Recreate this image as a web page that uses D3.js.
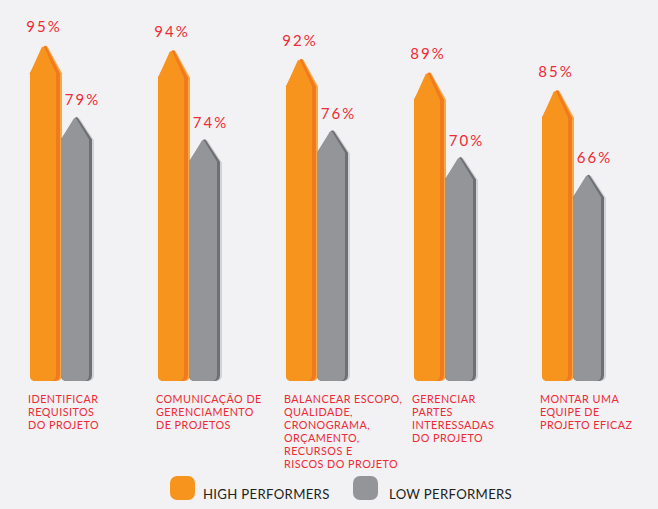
<!DOCTYPE html>
<html>
<head>
<meta charset="utf-8">
<script src="https://cdn.jsdelivr.net/npm/d3@7"></script>
<style>
  html, body { margin: 0; padding: 0; background: #f2f2f4; }
  svg { display: block; }
  text { font-family: Lato, "Open Sans", sans-serif; }
</style>
</head>
<body>
<svg id="chart" width="658" height="509"></svg>
<script>
const categories = ["IDENTIFICAR REQUISITOS DO PROJETO", "COMUNICAÇÃO DE GERENCIAMENTO DE PROJETOS", "BALANCEAR ESCOPO, QUALIDADE, CRONOGRAMA, ORÇAMENTO, RECURSOS E RISCOS DO PROJETO", "GERENCIAR PARTES INTERESSADAS DO PROJETO", "MONTAR UMA EQUIPE DE PROJETO EFICAZ"];
const categoryLines = [
  ["IDENTIFICAR", "REQUISITOS", "DO PROJETO"],
  ["COMUNICAÇÃO DE", "GERENCIAMENTO", "DE PROJETOS"],
  ["BALANCEAR ESCOPO,", "QUALIDADE,", "CRONOGRAMA,", "ORÇAMENTO,", "RECURSOS E", "RISCOS DO PROJETO"],
  ["GERENCIAR", "PARTES", "INTERESSADAS", "DO PROJETO"],
  ["MONTAR UMA", "EQUIPE DE", "PROJETO EFICAZ"]
];
const series = ["HIGH PERFORMERS", "LOW PERFORMERS"];
const highPerformers = [95, 94, 92, 89, 85];
const lowPerformers = [79, 74, 76, 70, 66];

const svg = d3.select("#chart");
const baseY = 381;

const x0 = d3.scaleBand().domain(categories).range([30, 670]).paddingInner(0).paddingOuter(0);
const x1 = d3.scaleBand().domain(series).range([0, 62]);
const y = d3.scaleLinear().domain([20, 100]).range([379, 23]);

function arrowPath(x, w, yTip, depth, r) {
  const p = d3.path();
  p.moveTo(x, baseY - r);
  p.lineTo(x, yTip + depth);
  p.lineTo(x + w / 2 - 1.5, yTip + 1.5);
  p.quadraticCurveTo(x + w / 2, yTip - 0.5, x + w / 2 + 1.5, yTip + 1.5);
  p.lineTo(x + w, yTip + depth);
  p.lineTo(x + w, baseY - r);
  p.quadraticCurveTo(x + w, baseY, x + w - r, baseY);
  p.lineTo(x + r, baseY);
  p.quadraticCurveTo(x, baseY, x, baseY - r);
  p.closePath();
  return p.toString();
}

const red = "#ee2a34";
const data = categories.map((c, i) => ({ c, i, high: highPerformers[i], low: lowPerformers[i] }));

const groups = svg.selectAll("g.grp").data(data).join("g").attr("class", "grp");

// High performers (orange)
groups.each(function(d) {
  const g = d3.select(this);
  const bx = x0(d.c) + x1(series[0]);
  const w = x1.bandwidth() + 1;
  const t = y(d.high);
  g.append("path").attr("d", arrowPath(bx, w, t, 28, 6)).attr("fill", "#f9a847");
  g.append("path").attr("d", arrowPath(bx, w - 2, t, 28, 6)).attr("fill", "#f27a1e");
  g.append("path").attr("d", arrowPath(bx, w - 6, t + 1, 27, 6)).attr("fill", "#f7941d");
  g.append("text").attr("x", bx + w / 2 - 2).attr("y", t - 13)
    .attr("text-anchor", "middle").attr("fill", red).attr("font-size", 15)
    .attr("letter-spacing", 2).text(d.high + "%");
});

// Low performers (gray)
groups.each(function(d) {
  const g = d3.select(this);
  const bx = x0(d.c) + x1(series[1]);
  const w = x1.bandwidth();
  const t = y(d.low);
  g.append("path").attr("d", arrowPath(bx + 2, w, t + 1, 23, 6)).attr("fill", "#d3d3d6");
  g.append("path").attr("d", arrowPath(bx, w, t, 23, 6)).attr("fill", "#6f7074");
  g.append("path").attr("d", arrowPath(bx, w - 3, t + 1, 22, 6)).attr("fill", "#939598");
  g.append("text").attr("x", bx + w / 2 + 6).attr("y", t - 11)
    .attr("text-anchor", "middle").attr("fill", red).attr("font-size", 15)
    .attr("letter-spacing", 2).text(d.low + "%");
});

// Category labels
groups.each(function(d) {
  const g = d3.select(this);
  const lx = x0(d.c) - 2;
  const tx = g.append("text").attr("fill", red).attr("font-size", 10.8)
    .attr("letter-spacing", 0.45).attr("x", lx).attr("y", 403);
  categoryLines[d.i].forEach((line, k) => {
    tx.append("tspan").attr("x", lx).attr("y", 403 + k * 13).text(line);
  });
});

// Legend
const legendColors = ["#f7941d", "#939598"];
const legendX = d3.scaleOrdinal().domain(series).range([170, 353]);
const leg = svg.selectAll("g.leg").data(series).join("g").attr("class", "leg")
  .attr("transform", s => `translate(${legendX(s)},476)`);
leg.append("rect").attr("width", 25).attr("height", 24).attr("rx", 7)
  .attr("fill", (s, i) => legendColors[i]);
leg.append("text").attr("x", (s, i) => i === 0 ? 33 : 36).attr("y", 23)
  .attr("font-size", 13.2).attr("fill", "#231f20").attr("letter-spacing", 0.3)
  .text(s => s);
</script>
</body>
</html>
